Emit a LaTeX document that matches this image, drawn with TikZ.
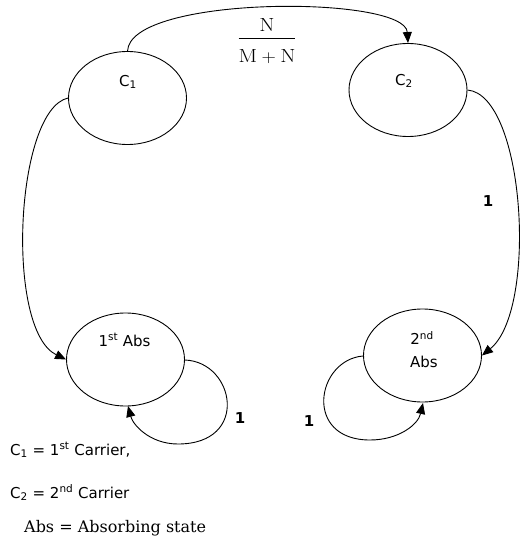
\documentclass[tikz,border=0pt]{standalone}
\usepackage{amsmath}
\usepackage{fontspec}
\usetikzlibrary{shapes.geometric,arrows.meta}
\newfontfamily\nodefont{DejaVu Sans}
\newfontfamily\legserif{DejaVu Serif}
\tikzset{
  state/.style={draw, ellipse, line width=0.9pt, inner sep=0pt, minimum width=118pt, minimum height=93pt},
  stlabel/.style={inner sep=0pt, font=\nodefont\fontsize{15}{17}\selectfont},
  edge/.style={line width=0.9pt, -{Triangle[length=11pt,width=9pt]}},
  prob/.style={inner sep=0pt, font=\nodefont\bfseries\fontsize{15}{17}\selectfont},
  legend/.style={inner sep=0pt, anchor=base west, font=\nodefont\fontsize{15}{17}\selectfont},
}
\begin{document}
\begin{tikzpicture}[x=1pt, y=-1pt]
\useasboundingbox (0,0) rectangle (520,537);
% states
\node[state] (c1) at (127.5,98) {};
\node[state] (c2) at (408,90) {};
\node[state] (a1) at (125.5,359.5) {};
\node[state] (a2) at (422.5,355.5) {};
% state texts
\node[stlabel] (t1) at (128,82) {C\textsubscript{1}};
\node[stlabel] (t2) at (404,81) {C\textsubscript{2}};
\node[stlabel] (t3) at (124.5,340) {1\textsuperscript{st} Abs};
\node[stlabel] (t4) at (422,338) {2\textsuperscript{nd}};
\node[stlabel] (t5) at (424,362) {Abs};
% helper coordinates
\coordinate (l1s) at (185,360);
\coordinate (l1b) at (178,444);
\coordinate (l1e) at (128,406);
\coordinate (l2s) at (363,356);
\coordinate (l2b) at (370,440);
\coordinate (l2e) at (423,403);
% edges
\draw[edge] (c1.north) .. controls (130,-5) and (405,-5) .. (c2.north);
\draw[edge] (c1.west) .. controls (15,110) and (5,330) .. (a1.west);
\draw[edge] (c2.east) .. controls (525,95) and (538,310) .. (a2.east);
\draw[edge] (l1s) .. controls (235,362) and (250,444) .. (l1b) .. controls (150,444) and (133,425) .. (l1e);
\draw[edge] (l2s) .. controls (316,360) and (303,440) .. (l2b) .. controls (398,440) and (418,425) .. (l2e);
% edge labels
\node[inner sep=0pt, anchor=base] (frac) at (267,43) {\fontsize{19}{23}\selectfont\scalebox{1.15}[1]{$\dfrac{\mathrm{N}}{\rule{0pt}{21.5pt}\mathrm{M}+\mathrm{N}}$}};
\node[prob] (p1) at (488,201.5) {1};
\node[prob] (p2) at (240,418) {1};
\node[prob] (p3) at (309,421) {1};
% legend
\node[legend] (g1) at (10,455) {C\textsubscript{1} = 1\textsuperscript{st} Carrier,};
\node[legend] (g2) at (10,498) {C\textsubscript{2} = 2\textsuperscript{nd} Carrier};
\node[inner sep=0pt, anchor=base west, font=\legserif\fontsize{16}{18}\selectfont] (g3) at (24,532) {Abs = Absorbing state};
\end{tikzpicture}
\end{document}
